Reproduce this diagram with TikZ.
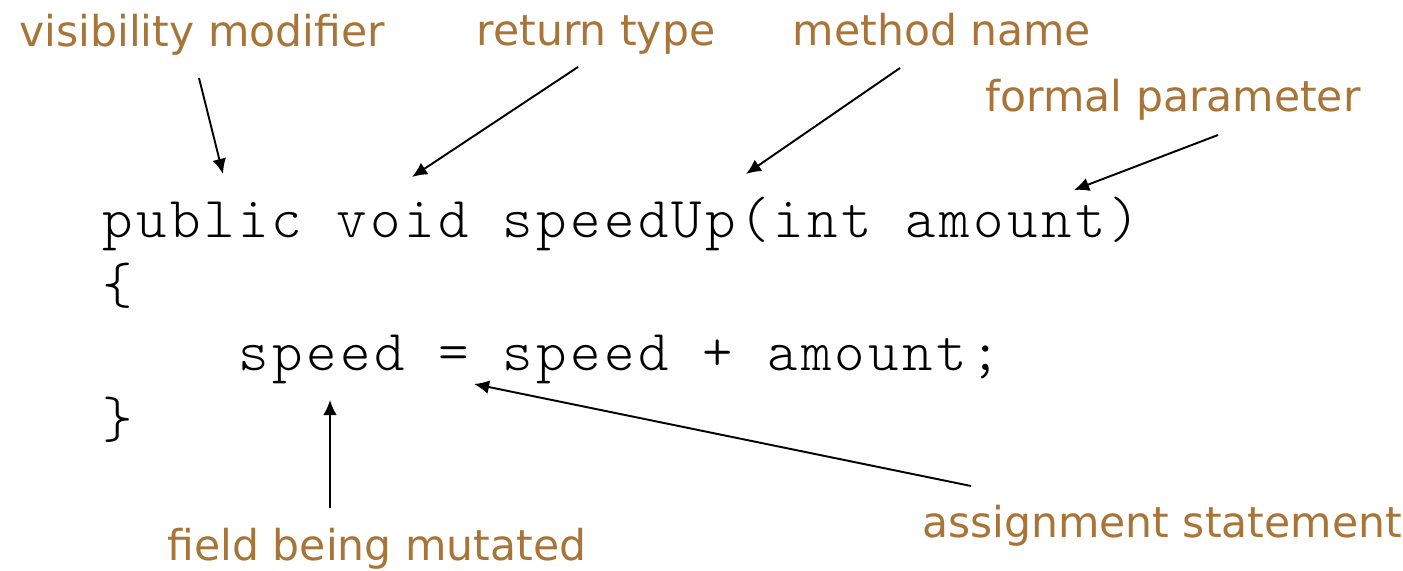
\documentclass[tikz,border=0pt]{standalone}
\usepackage{fontspec}
\setsansfont{DejaVu Sans}
\newfontfamily\codefont{lmmonolt10-regular.otf}[LetterSpace=6.0]
\usetikzlibrary{arrows.meta}
\definecolor{labelbrown}{RGB}{168,116,56}
\tikzset{
  lbl/.style={font=\sffamily\fontsize{24.2}{28}\selectfont, text=labelbrown, inner sep=0pt, anchor=base},
  code/.style={font=\codefont\fontsize{33}{36}\selectfont, inner sep=0pt, anchor=base west},
  pointer/.style={line width=1.1pt, -{Latex[length=8.6pt,width=7.8pt]}}
}
\begin{document}
\begin{tikzpicture}[x=0.02cm,y=-0.02cm]
\useasboundingbox (0,0) rectangle (1403,571);
% labels
\node[lbl] (vis) at (202,47) {visibility modifier};
\node[lbl] (ret) at (596,46) {return type};
\node[lbl] (meth) at (942,46) {method name};
\node[lbl] (formal) at (1173,112) {formal parameter};
\node[lbl] (field) at (377,560) {field being mutated};
\node[lbl] (assign) at (1162,537) {assignment statement};
% code
\node[code] (l1) at (102,237) {public void speedUp(int amount)};
\node[code] (l2) at (102,303.5) {\{};
\node[code] (l3) at (238,370) {speed = speed + amount;};
\node[code] (l4) at (102,437) {\}};
% arrow ends
\coordinate (visS) at (199,78);   \coordinate (visT) at (223,174);
\coordinate (retS) at (578,67);   \coordinate (retT) at (412,177);
\coordinate (methS) at (900,68);  \coordinate (methT) at (746,174);
\coordinate (forS) at (1218,135); \coordinate (forT) at (1074,190);
\coordinate (fieS) at (330,508);  \coordinate (fieT) at (330,400);
\coordinate (asgS) at (971,486);  \coordinate (asgT) at (474,384);
\draw[pointer] (visS) -- (visT);
\draw[pointer] (retS) -- (retT);
\draw[pointer] (methS) -- (methT);
\draw[pointer] (forS) -- (forT);
\draw[pointer] (fieS) -- (fieT);
\draw[pointer] (asgS) -- (asgT);
\end{tikzpicture}
\end{document}
